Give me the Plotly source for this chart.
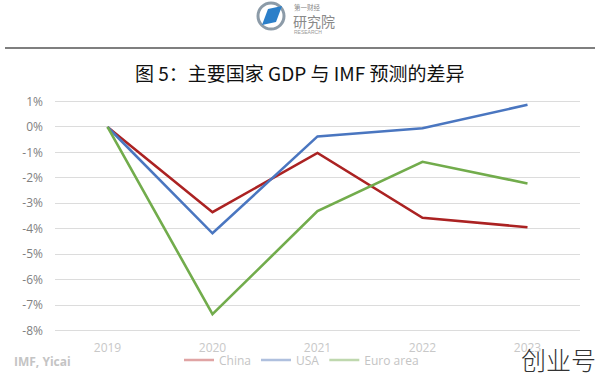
import plotly.graph_objects as go

years = ["2019", "2020", "2021", "2022", "2023"]
china = [0.0, -3.35, -1.02, -3.57, -3.94]
usa = [0.0, -4.18, -0.37, -0.05, 0.87]
euro = [0.0, -7.36, -3.31, -1.37, -2.22]
series_names = ["China", "USA", "Euro area"]
tick_vals = [1, 0, -1, -2, -3, -4, -5, -6, -7, -8]
tick_text = ["1%", "0%", "-1%", "-2%", "-3%", "-4%", "-5%", "-6%", "-7%", "-8%"]

W, H = 600, 381
L, R, T, B = 55, 20, 99, 48
PW, PH = W - L - R, H - T - B


def px(x):
    return (x - L) / PW


def py(y):
    return (H - B - y) / PH


line_colors = ["#AB2222", "#4A76C0", "#72AC4C"]
legend_colors = ["#E0A4A4", "#AFC0DE", "#BFD8AE"]

fig = go.Figure()
for name, vals, c in zip(series_names, [china, usa, euro], line_colors):
    fig.add_trace(go.Scatter(x=years, y=vals, mode="lines", name=name,
                             line=dict(color=c, width=2.6), showlegend=False))
for name, c in zip(series_names, legend_colors):
    fig.add_trace(go.Scatter(x=[None], y=[None], mode="lines", name=name,
                             line=dict(color=c, width=2.6), showlegend=True))

shapes = [
    dict(type="line", xref="paper", yref="paper", x0=px(5), x1=px(595),
         y0=py(48), y1=py(48), line=dict(color="#555555", width=1.5)),
    # logo ring
    dict(type="circle", xref="paper", yref="paper", x0=px(258), x1=px(284),
         y0=py(3), y1=py(29), line=dict(color="#8C9BA8", width=3)),
    # logo blue parallelogram
    dict(type="path", xref="paper", yref="paper",
         path=f"M {px(262)},{py(25)} L {px(268)},{py(9)} L {px(282)},{py(6)} L {px(276)},{py(22)} Z",
         fillcolor="#2B7FC9", line=dict(width=0)),
]

annotations = [
    dict(text="图 5：主要国家 GDP 与 IMF 预测的差异", x=px(300), y=py(72),
         xref="paper", yref="paper", showarrow=False, xanchor="center", yanchor="middle",
         font=dict(family="Noto Sans CJK SC", size=19, color="#111111")),
    dict(text="第一财经", x=px(292), y=py(7), xref="paper", yref="paper", showarrow=False,
         xanchor="left", yanchor="middle", font=dict(family="Noto Sans CJK SC", size=6.5, color="#888888")),
    dict(text="研究院", x=px(291), y=py(21), xref="paper", yref="paper", showarrow=False,
         xanchor="left", yanchor="middle", font=dict(family="Noto Sans CJK SC", size=14, color="#8A8A8A")),
    dict(text="RESEARCH", x=px(292), y=py(32), xref="paper", yref="paper", showarrow=False,
         xanchor="left", yanchor="middle", font=dict(family="Liberation Sans", size=5, color="#999999")),
    dict(text="<b>IMF, Yicai</b>", x=px(12), y=py(361), xref="paper", yref="paper", showarrow=False,
         xanchor="left", yanchor="middle", font=dict(family="Open Sans", size=12, color="#C4C4C4")),
    dict(text="创业号", x=px(598), y=py(359), xref="paper", yref="paper", showarrow=False,
         xanchor="right", yanchor="middle", font=dict(family="Noto Sans CJK SC", size=25, color="#333333", weight=300)),
]

fig.update_layout(
    width=W, height=H,
    margin=dict(l=L, r=R, t=T, b=B, autoexpand=False),
    paper_bgcolor="white", plot_bgcolor="white",
    shapes=shapes, annotations=annotations,
    showlegend=True,
    legend=dict(orientation="h", xref="container", yref="container",
                x=179 / W, y=1 - 360 / H, xanchor="left", yanchor="middle",
                font=dict(family="Open Sans", size=12, color="#C4C4C4"),
                itemwidth=30, tracegroupgap=0, bgcolor="rgba(0,0,0,0)"),
    xaxis=dict(type="category", range=[-0.5, 4.5], showgrid=False, zeroline=False,
               showline=False, ticks="", tickfont=dict(family="Open Sans", size=12, color="#C8C8C8"),
               ticklabelstandoff=6),
    yaxis=dict(range=[-8.1, 1.1], tickvals=tick_vals, ticktext=tick_text, showgrid=True,
               gridcolor="#DCDCDC", gridwidth=1, zeroline=False, showline=False, ticks="",
               tickfont=dict(family="Open Sans", size=12, color="#7F7F7F"), ticklabelstandoff=11),
)

fig.write_html("out.html", config={"displayModeBar": False},
               post_script="document.body.style.margin='0';document.body.style.overflow='hidden';")
